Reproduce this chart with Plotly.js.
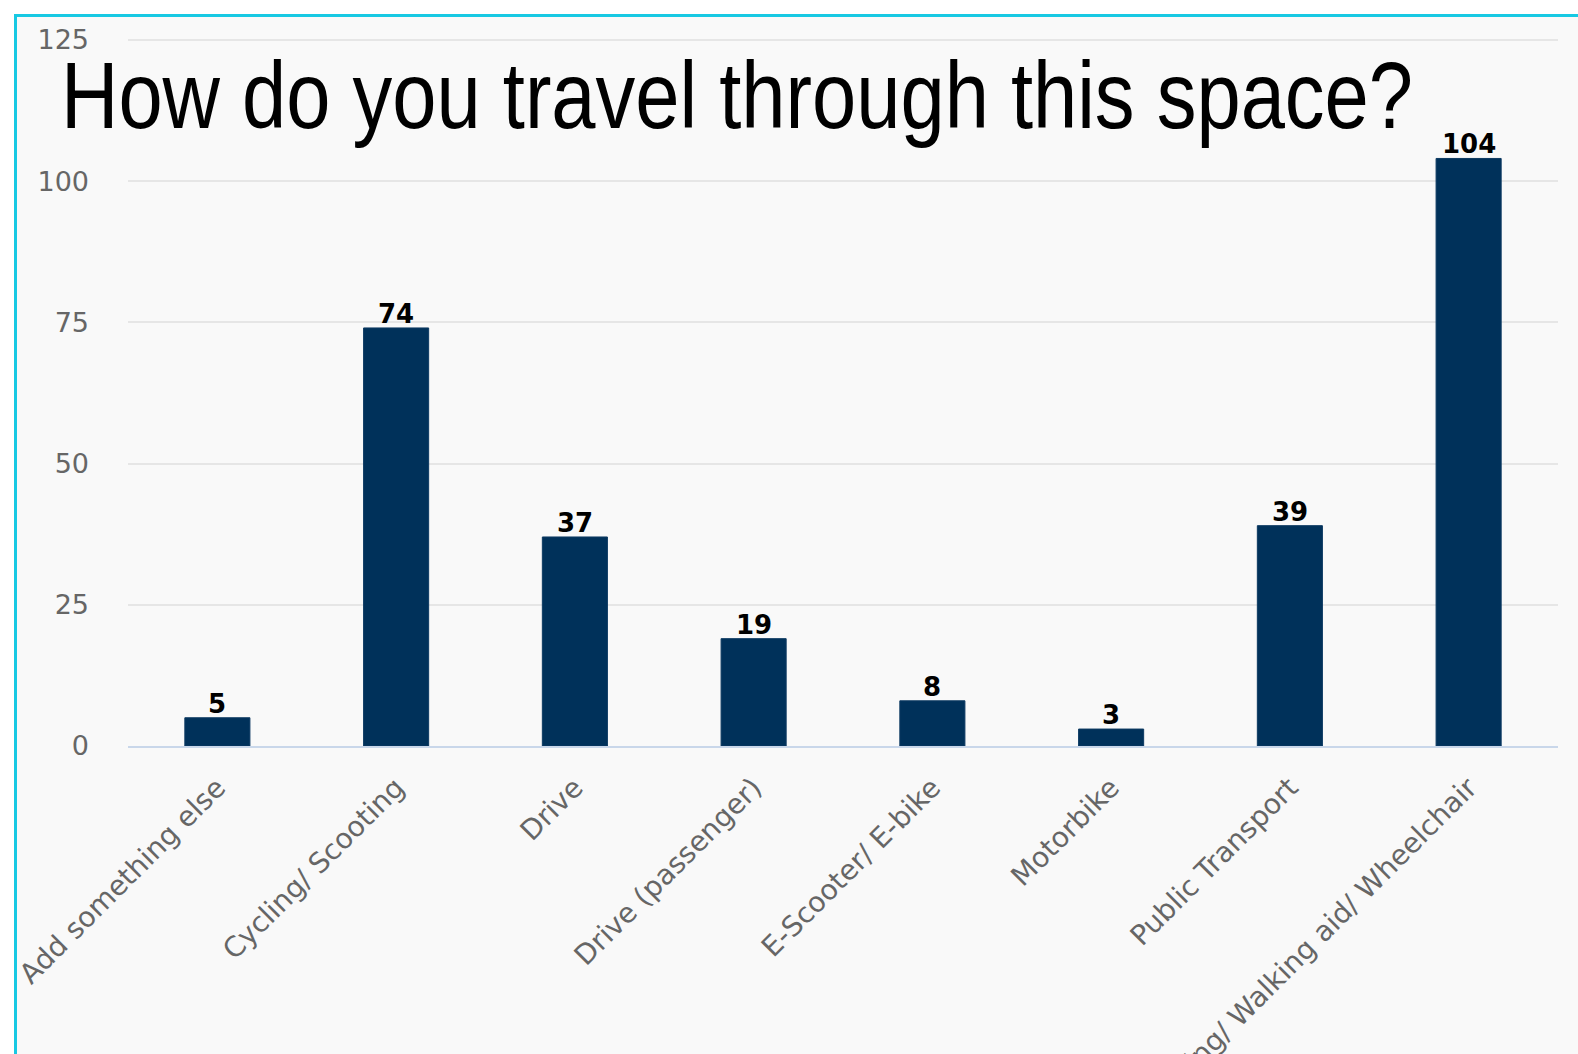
<!DOCTYPE html>
<html>
<head>
<meta charset="utf-8">
<script src="https://cdn.plot.ly/plotly-3.0.1.min.js"></script>
<style>
html, body { margin: 0; padding: 0; width: 1578px; height: 1054px; overflow: hidden; background: #ffffff; }
#frame { position: absolute; left: 14px; top: 14px; width: 1700px; height: 1200px;
  border-left: 3px solid #17c9e3; border-top: 3px solid #17c9e3; background: #f9f9f9; }
#chart { position: absolute; left: 0; top: 0; width: 1578px; height: 1200px; }
</style>
</head>
<body>
<div id="frame"></div>
<div id="chart"></div>
<script>
const categories = ["Add something else", "Cycling/ Scooting", "Drive", "Drive (passenger)",
  "E-Scooter/ E-bike", "Motorbike", "Public Transport", "Walking/ Walking aid/ Wheelchair"];
const counts = [5, 74, 37, 19, 8, 3, 39, 104];
const yTicks = [0, 25, 50, 75, 100, 125];
const titleText = "How do you travel through this space?";

const trace = {
  type: "bar",
  x: categories,
  y: counts,
  marker: { color: "#00315a", line: { color: "#0d3a62", width: 1 } },
  hoverinfo: "none"
};

const valueLabels = categories.map((c, i) => ({
  x: c, y: counts[i], xref: "x", yref: "y",
  text: "<b>" + counts[i] + "</b>",
  showarrow: false, yanchor: "bottom", xanchor: "center", yshift: -3,
  font: { family: "DejaVu Sans", size: 26, color: "#000000" }
}));

const layout = {
  width: 1578,
  height: 1200,
  paper_bgcolor: "rgba(0,0,0,0)",
  plot_bgcolor: "rgba(0,0,0,0)",
  margin: { l: 128, r: 20, t: 37, b: 454 },
  bargap: 0.636,
  showlegend: false,
  font: { family: "DejaVu Sans", size: 26, color: "#666666" },
  title: {
    text: titleText,
    font: { family: "Liberation Sans, Arial, sans-serif", size: 94, color: "#000000" },
    xref: "container", yref: "container",
    x: 61 / 1578, xanchor: "left",
    y: 1 - 95 / 1200, yanchor: "middle"
  },
  annotations: valueLabels,
  xaxis: {
    type: "category",
    tickangle: -45,
    tickfont: { family: "DejaVu Sans", size: 28, color: "#666666" },
    showgrid: false,
    showline: true,
    linecolor: "#c9d7ea",
    linewidth: 2,
    ticks: "",
    ticklabelstandoff: 12,
    automargin: false
  },
  yaxis: {
    range: [0, 125.5],
    tickvals: yTicks,
    ticktext: yTicks.map(String),
    tickfont: { family: "DejaVu Sans", size: 27, color: "#666666" },
    showgrid: true,
    gridcolor: "#e6e6e6",
    gridwidth: 2,
    zeroline: false,
    showline: false,
    ticks: "",
    ticklabelstandoff: 38,
    automargin: false
  }
};

Plotly.newPlot("chart", [trace], layout, { staticPlot: true, displayModeBar: false }).then(() => {
  const t = document.querySelector("#chart .gtitle");
  if (t) {
    t.setAttribute("textLength", "1352");
    t.setAttribute("lengthAdjust", "spacingAndGlyphs");
  }
});
</script>
</body>
</html>
